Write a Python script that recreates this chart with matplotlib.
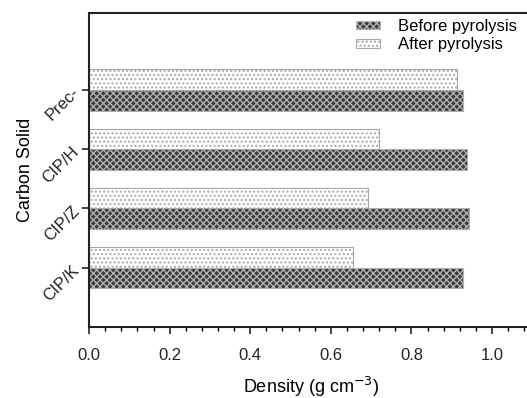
import matplotlib.pyplot as plt
import numpy as np

plt.rcParams["font.family"] = ["Liberation Sans", "DejaVu Sans"]

# data (bottom -> top)
solids = ["CIP/K", "CIP/Z", "CIP/H", "Prec-"]
before = [0.927, 0.943, 0.939, 0.929]
after = [0.654, 0.693, 0.720, 0.913]


def main():
    fig = plt.figure(figsize=(5.27, 3.98), dpi=100)
    ax = fig.add_axes([0.169, 0.179, 0.841, 0.788])

    pos = np.arange(1, len(solids) + 1)
    h = 0.35

    # before pyrolysis: dark with light speckles, just under the tick
    ax.barh(pos - h / 2, before, height=h, color="#3a3a3a",
            edgecolor="#b0b0b0", hatch="xxxxx", linewidth=0.8,
            label="Before pyrolysis")
    # after pyrolysis: white with grey dots, just above the tick
    ax.barh(pos + h / 2, after, height=h, color="white",
            edgecolor="#a8a8a8", hatch="....", linewidth=0.8,
            label="After pyrolysis")

    ax.set_xlim(0, 1.1)
    ax.set_ylim(0, 5.3)
    ax.set_xticks(np.arange(0, 1.01, 0.2))
    ax.set_xticklabels(["0.0", "0.2", "0.4", "0.6", "0.8", "1.0"])
    ax.set_xticks(np.arange(0, 1.1, 0.04), minor=True)
    ax.set_yticks(pos)
    ax.set_yticklabels(solids, rotation=45, ha="right", va="center",
                       rotation_mode="anchor")

    ax.tick_params(axis="x", which="major", length=5, width=1.2,
                   labelsize=12, pad=10, colors="#222222")
    ax.tick_params(axis="x", which="minor", length=3, width=1)
    ax.tick_params(axis="y", length=5, width=1.2, labelsize=12,
                   pad=4, colors="#222222")

    for side in ["left", "top", "bottom"]:
        ax.spines[side].set_linewidth(1.5)
        ax.spines[side].set_color("#222222")
    ax.spines["right"].set_visible(False)

    ax.set_xlabel("Density (g cm$^{-3}$)", fontsize=13, labelpad=9)
    ax.set_ylabel("Carbon Solid", fontsize=13, labelpad=4)

    handles, labels = ax.get_legend_handles_labels()
    fig.legend(handles, labels, loc="upper left",
               bbox_to_anchor=(0.648, 0.99), frameon=False,
               fontsize=12, handlelength=1.4, handleheight=0.4,
               handletextpad=1.1, labelspacing=0.2)

    fig.savefig("out.png", dpi=100)


if __name__ == "__main__":
    main()
